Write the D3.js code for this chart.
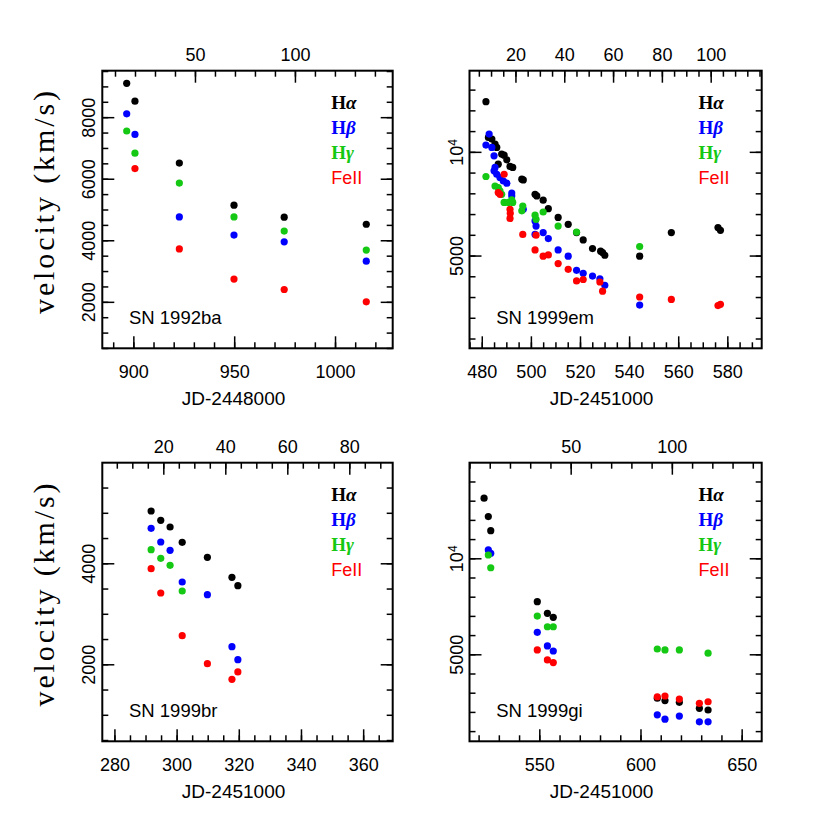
<!DOCTYPE html>
<html>
<head>
<meta charset="utf-8">
<script src="https://cdn.jsdelivr.net/npm/d3@7"></script>
<style>
  body { margin: 0; background: #fff; }
  svg { display: block; }
  .tick line { stroke: #000; stroke-width: 1.5; }
  .tick text { font-family: "Liberation Sans", Arial, sans-serif; font-size: 18px; fill: #000; }
</style>
</head>
<body>
<div id="chart"></div>
<script>
// line names and colours
const lines = ["Hα", "Hβ", "Hγ", "FeII"];
const colors = ["#000000", "#0000ff", "#14c814", "#ff0000"];

// SN 1992ba  [JD-2448000, km/s]
const ba92_ha = [[896.7,9100],[900.8,8520],[922.8,6510],[949.9,5140],[974.8,4750],[1015.5,4520]];
const ba92_hb = [[896.7,8110],[900.8,7440],[922.8,4760],[949.9,4170],[974.8,3950],[1015.5,3320]];
const ba92_hg = [[896.7,7550],[900.8,6830],[922.8,5860],[949.9,4760],[974.8,4300],[1015.5,3680]];
const ba92_fe = [[900.8,6330],[922.8,3720],[949.9,2740],[974.8,2400],[1015.5,2000]];

// SN 1999em  [JD-2451000, km/s]
const em99_ha = [[481.7,13980],[482.7,11010],[484.1,10890],[485.4,10530],[486.1,10300],[486.7,9210],
  [488.1,9850],[489.1,9780],[490.2,9480],[491.5,9070],[492.6,9010],[496.3,8330],[496.9,8290],
  [501.7,7530],[502.4,7450],[505.0,7240],[507.1,6840],[511.1,6450],[515.2,6160],[518.6,5830],
  [521.3,5550],[525.1,5240],[528.4,5150],[529.2,5100],[530.1,5010],[544.3,4980],[557.2,5830],
  [576.2,6030],[577.2,5920]];
const em99_hb = [[483.0,11260],[481.7,10460],[484.1,10300],[485.0,9740],[485.4,9010],[485.0,8810],
  [486.1,8610],[487.4,8420],[488.8,8230],[490.2,8110],[492.2,7590],[492.2,7450],[496.9,6810],
  [501.7,6300],[502.1,6090],[501.7,5760],[505.0,5830],[507.1,5600],[511.1,5190],[515.2,4980],
  [518.6,4530],[521.3,4440],[525.1,4360],[528.1,4280],[530.1,4100],[544.3,3590]];
const em99_hg = [[481.7,8480],[485.4,7960],[486.7,7880],[487.4,7700],[488.1,7530],[489.1,7130],
  [490.8,7130],[492.2,7250],[492.6,7130],[496.7,6960],[496.3,6740],[501.7,6550],[502.1,6370],
  [505.0,6690],[511.1,6090],[518.6,5850],[544.3,5310]];
const em99_fe = [[489.1,8610],[486.7,7620],[487.4,7530],[491.5,6810],[491.6,6630],[491.5,6410],
  [496.7,5760],[501.7,5190],[502.1,5730],[505.0,4980],[507.1,5020],[511.1,4740],[515.2,4560],
  [518.6,4220],[521.3,4260],[528.1,4190],[529.2,3940],[544.3,3790],[557.2,3730],[576.2,3580],
  [577.2,3610]];

// SN 1999br  [JD-2451000, km/s]
const br99_ha = [[291.8,5036],[294.9,4851],[297.9,4719],[301.8,4416],[309.9,4119],[317.8,3723],[319.7,3556]];
const br99_hb = [[291.8,4693],[294.9,4422],[297.9,4257],[301.8,3630],[309.9,3378],[317.8,2349],[319.7,2091]];
const br99_hg = [[291.8,4269],[294.9,4099],[297.9,3960],[301.8,3451]];
const br99_fe = [[291.8,3893],[294.9,3412],[301.8,2566],[309.9,2012],[317.8,1703],[319.7,1848]];

// SN 1999gi  [JD-2451000, km/s]
const gi99_ha = [[522.7,15430],[524.8,13510],[526.0,12210],[549.0,7310],[554.0,6720],[556.9,6530],
  [608.3,3640],[612.1,3580],[619.2,3535],[629.1,3385],[633.4,3345]];
const gi99_hb = [[524.8,10620],[526.0,10370],[549.0,5860],[554.0,5310],[556.9,5120],
  [608.3,3230],[612.1,3130],[619.2,3200],[629.1,3070],[633.4,3070]];
const gi99_hg = [[524.8,10240],[526.0,9340],[549.0,6590],[554.0,6100],[556.9,6100],
  [608.3,5195],[612.1,5160],[619.2,5160],[633.4,5040]];
const gi99_fe = [[549.0,5160],[554.0,4800],[556.9,4710],[608.3,3680],[612.1,3700],[619.2,3620],
  [629.1,3510],[633.4,3550]];

// labelled ticks
const ba92_xticks = [900, 950, 1000], ba92_topticks = [50, 100], ba92_yticks = [2000, 4000, 6000, 8000];
const em99_xticks = [480, 500, 520, 540, 560, 580], em99_topticks = [20, 40, 60, 80, 100], em99_yticks = [5000, 10000];
const br99_xticks = [280, 300, 320, 340, 360], br99_topticks = [20, 40, 60, 80], br99_yticks = [2000, 4000];
const gi99_xticks = [550, 600, 650], gi99_topticks = [50, 100], gi99_yticks = [5000, 10000];

const width = 830, height = 830;
const svg = d3.select("#chart").append("svg").attr("width", width).attr("height", height);

const panels = [
  {name: "SN 1992ba", box: [102.3, 70.7, 392.7, 348.3], xDom: [884.6, 1028.6], xMaj: ba92_xticks, xStep: 10,
   tDom: [3.65, 148.9], tMaj: ba92_topticks, tStep: 10, log: false, yDom: [490, 9510], yMaj: ba92_yticks, yStep: 500,
   title: "JD-2448000", ylab: true, data: [ba92_ha, ba92_hb, ba92_hg, ba92_fe]},
  {name: "SN 1999em", box: [469.5, 70.7, 761.7, 348.3], xDom: [475, 594], xMaj: em99_xticks, xStep: 5,
   tDom: [1.17, 120.9], tMaj: em99_topticks, tStep: 5, log: true, yDom: [2690, 17200], yMaj: em99_yticks,
   title: "JD-2451000", ylab: false, data: [em99_ha, em99_hb, em99_hg, em99_fe]},
  {name: "SN 1999br", box: [102.3, 462.7, 392.7, 741.3], xDom: [276.1, 369.5], xMaj: br99_xticks, xStep: 5,
   tDom: [0.32, 94], tMaj: br99_topticks, tStep: 5, log: false, yDom: [475, 5992], yMaj: br99_yticks, yStep: 500,
   title: "JD-2451000", ylab: true, data: [br99_ha, br99_hb, br99_hg, br99_fe]},
  {name: "SN 1999gi", box: [469.5, 462.7, 761.7, 741.3], xDom: [515.5, 659.9], xMaj: gi99_xticks, xStep: 10,
   tDom: [0, 144.4], tMaj: gi99_topticks, tStep: 10, log: true, yDom: [2668, 19940], yMaj: gi99_yticks,
   title: "JD-2451000", ylab: false, data: [gi99_ha, gi99_hb, gi99_hg, gi99_fe]}
];

function steps(dom, step) {
  return d3.range(Math.ceil(dom[0] / step) * step, dom[1], step);
}

panels.forEach(p => {
  const [x0, y0, x1, y1] = p.box;
  const w = x1 - x0, h = y1 - y0;
  const g = svg.append("g").attr("transform", `translate(${x0},${y0})`);

  const x = d3.scaleLinear().domain(p.xDom).range([0, w]);
  const t = d3.scaleLinear().domain(p.tDom).range([0, w]);
  const y = (p.log ? d3.scaleLog() : d3.scaleLinear()).domain(p.yDom).range([h, 0]);

  let yMinor;
  if (p.log) {
    // minor ticks are evenly spaced in log, five per factor of two
    yMinor = d3.range(-12, 16).map(k => 5000 * Math.pow(2, k / 5))
      .filter(v => v > p.yDom[0] && v < p.yDom[1]);
  } else {
    yMinor = steps(p.yDom, p.yStep);
  }

  // minor ticks
  g.append("g").attr("transform", `translate(0,${h})`)
    .call(d3.axisBottom(x).tickValues(steps(p.xDom, p.xStep)).tickSize(-6).tickFormat(""));
  g.append("g")
    .call(d3.axisTop(t).tickValues(steps(p.tDom, p.tStep)).tickSize(-6).tickFormat(""));
  g.append("g")
    .call(d3.axisLeft(y).tickValues(yMinor).tickSize(-6).tickFormat(""));
  g.append("g").attr("transform", `translate(${w},0)`)
    .call(d3.axisRight(y).tickValues(yMinor).tickSize(-6).tickFormat(""));

  // major ticks + labels
  g.append("g").attr("transform", `translate(0,${h})`)
    .call(d3.axisBottom(x).tickValues(p.xMaj).tickSize(-12).tickPadding(17).tickFormat(d3.format("d")));
  g.append("g")
    .call(d3.axisTop(t).tickValues(p.tMaj).tickSize(-12).tickPadding(10).tickFormat(d3.format("d")));
  const ly = g.append("g")
    .call(d3.axisLeft(y).tickValues(p.yMaj).tickSize(-12).tickFormat(d3.format("d")));
  ly.selectAll(".tick text")
    .attr("transform", "rotate(-90)")
    .attr("x", 0).attr("y", -7).attr("dy", 0)
    .attr("text-anchor", "middle")
    .each(function(d) {
      if (d === 10000) {
        const s = d3.select(this).text("10");
        s.append("tspan").attr("dy", "-0.45em").attr("font-size", "12px").text("4");
      }
    });
  g.append("g").attr("transform", `translate(${w},0)`)
    .call(d3.axisRight(y).tickValues(p.yMaj).tickSize(-12).tickFormat(""));

  g.selectAll(".domain").remove();

  // frame
  g.append("rect").attr("width", w).attr("height", h)
    .attr("fill", "none").attr("stroke", "#000").attr("stroke-width", 2);

  // points
  p.data.forEach((ser, i) => {
    g.append("g").selectAll("circle").data(ser).join("circle")
      .attr("cx", d => x(d[0])).attr("cy", d => y(d[1]))
      .attr("r", 3.6).attr("fill", colors[i]);
  });

  // SN name
  g.append("text").attr("x", 26.7).attr("y", h - 24)
    .attr("font-family", "Liberation Sans, Arial, sans-serif").attr("font-size", 18.5)
    .text(p.name);

  // legend
  lines.forEach((ln, i) => {
    const lt = g.append("text").attr("x", 229).attr("y", 38 + i * 25)
      .attr("fill", colors[i]).attr("font-size", 18);
    if (ln === "FeII") {
      lt.attr("font-family", "Liberation Sans, Arial, sans-serif").text(ln);
    } else {
      lt.attr("font-family", "Liberation Serif, serif").attr("font-size", 19).attr("font-weight", "bold");
      lt.append("tspan").text("H");
      lt.append("tspan").attr("font-style", "italic").text(ln.slice(1));
    }
  });

  // x title
  svg.append("text").attr("x", x0 + w * 0.452).attr("y", y1 + 57)
    .attr("text-anchor", "middle")
    .attr("font-family", "Liberation Sans, Arial, sans-serif").attr("font-size", 19)
    .text(p.title);

  if (p.ylab) {
    svg.append("text")
      .attr("transform", `translate(54,${(y0 + y1) / 2 - 7}) rotate(-90)`)
      .attr("text-anchor", "middle")
      .attr("font-family", "Liberation Serif, serif").attr("font-size", 30)
      .attr("textLength", 223).attr("lengthAdjust", "spacing")
      .text("velocity (km/s)");
  }
});
</script>
</body>
</html>
